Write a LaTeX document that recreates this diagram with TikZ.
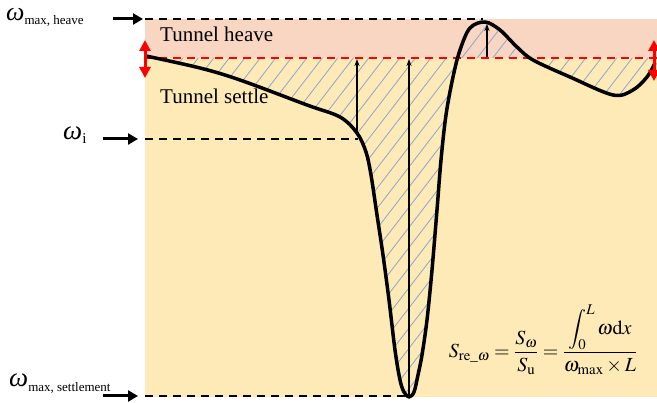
\documentclass[tikz,border=0pt]{standalone}
\usepackage{amsmath}
\usepackage{mathptmx}
\usepackage{fontspec}
\setmainfont{Liberation Serif}
\usetikzlibrary{arrows.meta}
\definecolor{heavefill}{RGB}{248,214,194}
\definecolor{settlefill}{RGB}{253,234,182}
\definecolor{hatchblue}{RGB}{140,165,210}
\newcommand{\fsz}[1]{\fontsize{#1}{#1}\selectfont}
\newcommand{\settlecurve}{plot[smooth,tension=0.55] coordinates {
  (146,56) (200,68) (240,80) (307,105) (340,117) (357,133) (366,152)
  (371,175) (377,215) (383,255) (389,300) (395,350) (400,380) (404,392)
  (409,397) (414,392) (418,375) (422,355) (427,320) (432,270) (437,210)
  (441,160) (446,115) (453,77) (460,50) (470,28) (485,22) (500,30)
  (517,47) (533,60) (570,77) (613,95) (633,90) (647,77) (655,63)}}

\begin{document}
\begin{tikzpicture}[x=1pt,y=-1pt,line join=round,
  dashline/.style={line width=2pt,dash pattern=on 8pt off 6pt},
  bigarrow/.style={line width=3pt,-{Triangle[length=10pt,width=11pt]}},
  redarrow/.style={red,line width=3pt,
    {Triangle[length=11pt,width=11pt]}-{Triangle[length=11pt,width=11pt]}},
  thinarrow/.style={line width=1.4pt,-{Stealth[length=7pt,width=5pt]}},
  lbl/.style={inner sep=0pt,anchor=base west}]
  \path[use as bounding box] (0,0) rectangle (657,403);
  % zones
  \fill[heavefill] (145,19) rectangle (657,58);
  \fill[settlefill] (145,58) rectangle (657,397);
  % hatched area between curve and reference line
  \begin{scope}
    \clip \settlecurve -- (655,58) -- (146,58) -- cycle;
    \foreach \k in {0,...,60}
      \draw[hatchblue,line width=0.8pt] (\k*15.5-150,410) -- ++(320,-416);
  \end{scope}
  % levels
  \coordinate (top0) at (145,19);
  \coordinate (top1) at (483,19);
  \coordinate (ref0) at (145,58);
  \coordinate (ref1) at (657,58);
  \coordinate (wi0) at (145,139);
  \coordinate (wi1) at (358,139);
  \coordinate (bot0) at (145,396);
  \coordinate (bot1) at (405,396);
  \draw[dashline] (top0) -- (top1);
  \draw[dashline] (wi0) -- (wi1);
  \draw[dashline] (bot0) -- (bot1);
  \draw[dashline,red] (ref0) -- (ref1);
  % profile
  \draw[line width=3.5pt] \settlecurve;
  % measures
  \coordinate (mi0) at (357,133);
  \coordinate (mi1) at (357,59);
  \coordinate (ms0) at (409,59);
  \coordinate (ms1) at (409,395);
  \coordinate (mh0) at (487,24);
  \coordinate (mh1) at (487,57);
  \draw[thinarrow] (mi0) -- (mi1);
  \draw[thinarrow,{Stealth[length=7pt,width=5pt]}-] (ms0) -- (ms1);
  \draw[thinarrow,{Stealth[length=7pt,width=5pt]}-] (mh0) -- (mh1);
  \coordinate (rl0) at (145,40);
  \coordinate (rl1) at (145,78);
  \coordinate (rr0) at (654,40);
  \coordinate (rr1) at (654,81);
  \draw[redarrow] (rl0) -- (rl1);
  \draw[redarrow] (rr0) -- (rr1);
  % pointers
  \coordinate (ph0) at (113,19);
  \coordinate (ph1) at (143,19);
  \coordinate (pi0) at (103,139);
  \coordinate (pi1) at (138,139);
  \coordinate (ps0) at (103,396);
  \coordinate (ps1) at (138,396);
  \draw[bigarrow] (ph0) -- (ph1);
  \draw[bigarrow] (pi0) -- (pi1);
  \draw[bigarrow] (ps0) -- (ps1);
  % labels
  \node[lbl] (heave) at (160,42) {\fsz{21}Tunnel heave};
  \node[lbl] (settle) at (160,104) {\fsz{21}Tunnel settle};
  \node[lbl] (wmaxh) at (6,21)
    {{\fsz{26}\itshape ω}{\fsz{13}\raisebox{-4pt}{max, heave}}};
  \node[lbl] (wi) at (63,140)
    {{\fsz{27}\itshape ω}{\fsz{15}\raisebox{-4pt}{i}}};
  \node[lbl] (wmaxs) at (9,387)
    {{\fsz{27}\itshape ω}{\fsz{13}\raisebox{-5pt}{max, settlement}}};
  \node (formula) at (543,340) {\fsz{20}$S_{\mathrm{re\_}\omega}=\dfrac{S_{\omega}}{S_{\mathrm{u}}}
    =\dfrac{\displaystyle\int\nolimits_0^L\omega\mathrm{d}x}{\omega_{\max}\times L}$};
\end{tikzpicture}
\end{document}
